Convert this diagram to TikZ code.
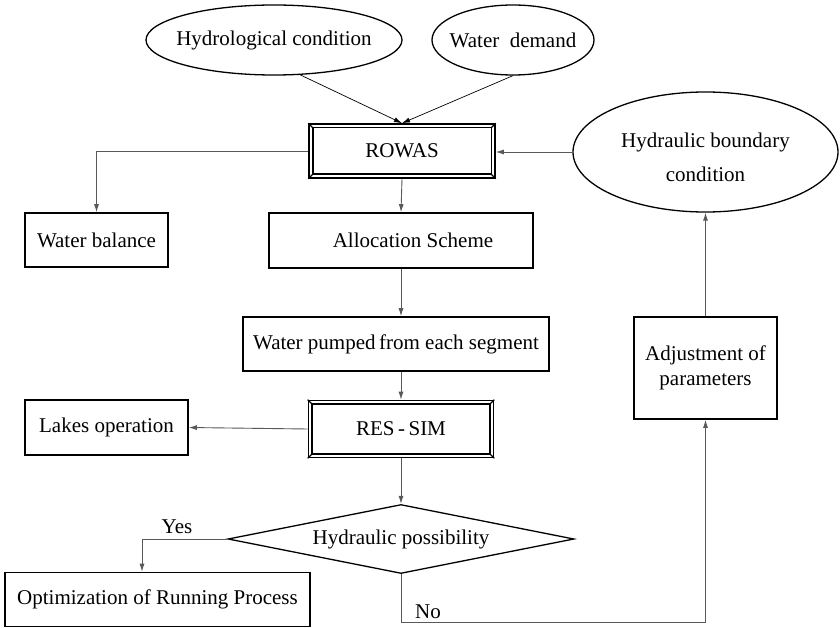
\documentclass[tikz,border=0pt]{standalone}
\usepackage{fontspec}
\setmainfont{Liberation Serif}
\usetikzlibrary{shapes.geometric,arrows.meta,calc}
\begin{document}
\begin{tikzpicture}[x=1pt,y=-1pt,
  txt/.style={font=\fontsize{21}{25}\selectfont},
  box/.style={txt,draw=black,line width=1.6pt,rectangle,inner sep=0pt,align=center},
  ell/.style={txt,draw=black,line width=1.3pt,ellipse,inner sep=0pt,align=center},
  dia/.style={txt,draw=black,line width=1.3pt,diamond,shape aspect=5,inner sep=0pt},
  conn/.style={draw=black!65,line width=0.9pt,-{Latex[length=8pt,width=5pt]}},
  plain/.style={draw=black!65,line width=0.9pt}]
\useasboundingbox (0,0) rectangle (840,628);
\fill[white] (0,0) rectangle (840,628);

% ellipses
\node[ell,minimum width=256,minimum height=70] (hydro) at (274,40) {\makebox[0pt]{Hydrological condition}};
\node[ell,minimum width=162,minimum height=70] (demand) at (513,40) {\makebox[0pt]{Water\ \ demand}};
\node[ell,minimum width=265,minimum height=120] (hbc) at (705.5,152) {\makebox[0pt]{\smash{\raisebox{-13pt}{\begin{tabular}{@{}c@{}}Hydraulic boundary\\[9pt]condition\end{tabular}}}}};

% boxes
\node[box,minimum width=186,minimum height=54] (rowas) at (402,151) {ROWAS};
\node[box,minimum width=143,minimum height=54] (wb) at (96.5,240) {Water balance};
\node[box,minimum width=264,minimum height=55] (alloc) at (401,240.5) {\hspace*{24pt}Allocation Scheme};
\node[box,minimum width=306,minimum height=54] (pumped) at (396,344) {Water pumped\,from each segment};
\node[box,minimum width=185,minimum height=57] (ressim) at (401,429) {RES\,-\,SIM};
\node[box,minimum width=163,minimum height=55] (lakes) at (106.5,427.5) {Lakes operation};
\node[box,minimum width=143,minimum height=102] (adj) at (705.5,368) {Adjustment of\\parameters};
\node[box,minimum width=305,minimum height=54] (opt) at (157.5,599.5) {Optimization of Running Process};
\node[dia,minimum width=346,minimum height=69] (poss) at (401,539) {Hydraulic possibility};

% bevel frames
\foreach \n in {rowas,ressim}{
  \draw[black,line width=1.6pt] ([shift={(4.5pt,-4.5pt)}]\n.north west) rectangle ([shift={(-4.5pt,4.5pt)}]\n.south east);
  \draw[black,line width=1.2pt] (\n.north west) -- ++(4.5pt,-4.5pt);
  \draw[black,line width=1.2pt] (\n.north east) -- ++(-4.5pt,-4.5pt);
  \draw[black,line width=1.2pt] (\n.south west) -- ++(4.5pt,4.5pt);
  \draw[black,line width=1.2pt] (\n.south east) -- ++(-4.5pt,4.5pt);
}

% labels
\node[txt,inner sep=0pt] (yes) at (177,527) {Yes};
\node[txt,inner sep=0pt] (no) at (428,612) {No};

% connectors
\draw[conn,draw=black,line width=0.7pt] (hydro.-53) -- (rowas.north);
\draw[conn,draw=black,line width=0.7pt] (demand.south) -- (rowas.north);
\draw[conn] (hbc.west) -- (rowas.east |- hbc.west);
\draw[conn] (rowas.west) -| (wb.north);
\draw[conn] (rowas.south) -- (alloc.north);
\draw[conn] (alloc.south) -- (alloc.south |- pumped.north);
\draw[conn] (ressim.north |- pumped.south) -- (ressim.north);
\draw[conn] (ressim.west) -- (lakes.east);
\draw[conn] (ressim.south) -- (poss.north);
\draw[conn] (poss.west) -| ([xshift=-15.5pt]opt.north);
\coordinate (bot) at (705.5,622);
\draw[plain] (poss.south) |- (bot);
\draw[conn] (bot) -- (adj.south);
\draw[conn] (adj.north) -- (hbc.south);
\end{tikzpicture}
\end{document}
